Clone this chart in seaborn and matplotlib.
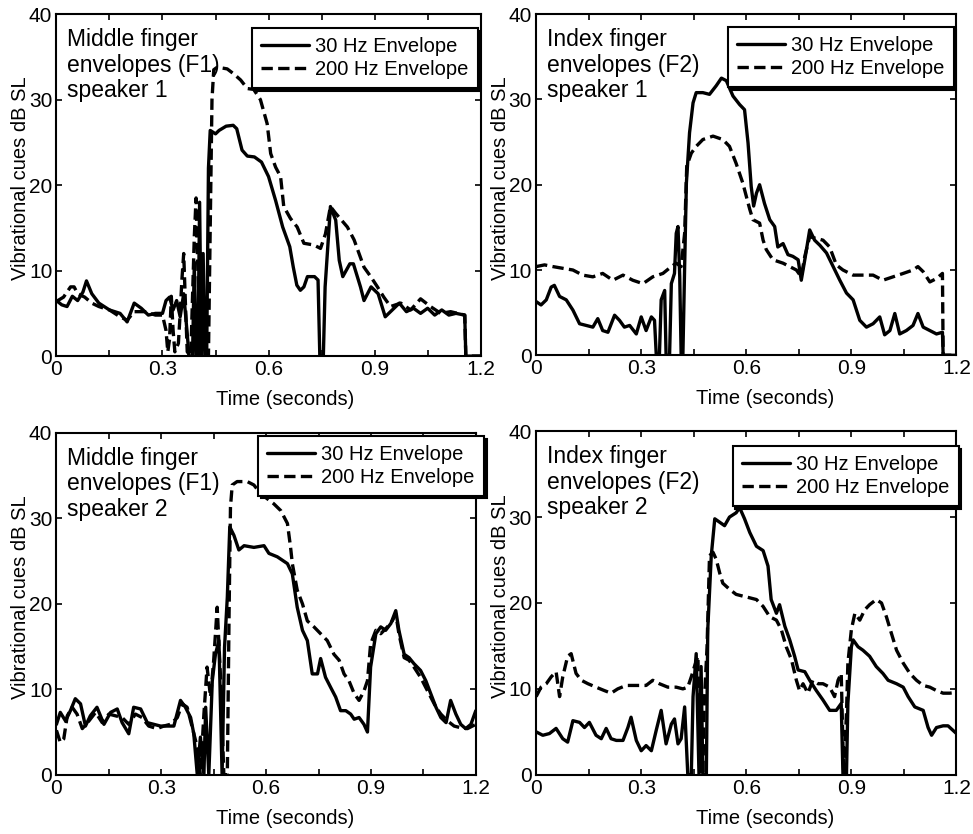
"""Four panels: 30 Hz / 200 Hz vibrotactile envelopes for two fingers and two speakers."""

import matplotlib
matplotlib.use("Agg")
import matplotlib.pyplot as plt
import numpy as np
import pandas as pd
import seaborn as sns

# ---- data (time in seconds, level in dB SL) ----
p1_t30 = [0, 0.015, 0.03, 0.045, 0.06, 0.075, 0.085, 0.1, 0.12, 0.15, 0.18, 0.2, 0.22, 0.24,
          0.26, 0.28, 0.3, 0.31, 0.32, 0.33, 0.34, 0.35, 0.36, 0.37, 0.375, 0.385, 0.39, 0.395,
          0.40, 0.405, 0.41, 0.415, 0.42, 0.425, 0.43, 0.435, 0.45, 0.46, 0.48, 0.5, 0.51, 0.525,
          0.54, 0.56, 0.58, 0.6, 0.62, 0.64, 0.66, 0.67, 0.68, 0.69, 0.7, 0.71, 0.73, 0.74,
          0.745, 0.755, 0.76, 0.77, 0.775, 0.79, 0.8, 0.81, 0.83, 0.84, 0.86, 0.87, 0.89, 0.91,
          0.93, 0.95, 0.97, 0.99, 1.01, 1.03, 1.05, 1.07, 1.09, 1.11, 1.13, 1.155, 1.158, 1.2]
p1_y30 = [6.5, 6.0, 5.8, 7.0, 6.5, 7.5, 8.8, 7.3, 6.2, 5.4, 5.0, 4.0, 6.2, 5.6,
          4.8, 5.0, 5.0, 6.5, 6.9, 5.4, 6.5, 4.6, 7.3, 2.6, 0, 0, 11, 0,
          0, 18, 0, 12, 0, 0, 22, 26.4, 26.0, 26.4, 26.9, 27.0, 26.6, 24.1,
          23.4, 23.3, 22.7, 21.0, 18.2, 15.1, 12.8, 10.4, 8.3, 7.7, 8.1, 9.3, 9.3, 8.9,
          0, 0, 8.1, 14.3, 17.5, 15.9, 11.2, 9.3, 10.8, 10.8, 8.1, 6.5, 8.1, 7.3,
          4.6, 5.4, 6.2, 5.2, 5.6, 5.0, 5.6, 4.8, 5.4, 4.8, 5.0, 4.8, 0, 0]
p1_t200 = [0, 0.02, 0.04, 0.05, 0.06, 0.08, 0.1, 0.12, 0.15, 0.18, 0.2, 0.22, 0.25, 0.28,
           0.3, 0.31, 0.315, 0.32, 0.325, 0.33, 0.335, 0.345, 0.35, 0.355, 0.36, 0.365, 0.37,
           0.38, 0.39, 0.395, 0.40, 0.41, 0.425, 0.43, 0.435, 0.44, 0.445, 0.455, 0.483, 0.502,
           0.521, 0.54, 0.558, 0.577, 0.596, 0.606, 0.62, 0.634, 0.643, 0.662, 0.681, 0.7,
           0.728, 0.747, 0.761, 0.775, 0.79, 0.823, 0.842, 0.87, 0.889, 0.908, 0.926, 0.945,
           0.974, 1.002, 1.03, 1.058, 1.087, 1.115, 1.155, 1.158, 1.2]
p1_y200 = [6.4, 6.9, 8.1, 8.1, 7.3, 6.9, 6.2, 5.8, 5.4, 4.6, 4.2, 5.2, 5.2, 4.8,
           4.8, 3.0, 0.5, 2.0, 7.0, 3.0, 0.5, 1.5, 5.0, 9.0, 12.0, 6.0, 0.5,
           0, 14, 18.5, 10, 0, 0, 0, 15, 30, 33.5, 33.8, 33.6, 33.0,
           32.3, 31.3, 31.2, 30.0, 27.2, 23.7, 22.1, 21.0, 17.5, 16.1, 15.1, 13.2,
           13.0, 12.6, 14.3, 17.5, 16.7, 15.1, 13.6, 10.4, 9.3, 8.1, 6.9, 5.8,
           6.2, 5.4, 6.7, 5.8, 5.0, 5.2, 4.8, 0, 0]

p2_t30 = [0, 0.014, 0.029, 0.043, 0.052, 0.067, 0.086, 0.105, 0.124, 0.143, 0.162, 0.176,
          0.19, 0.205, 0.224, 0.238, 0.252, 0.267, 0.286, 0.3, 0.314, 0.329, 0.338, 0.343,
          0.352, 0.357, 0.367, 0.371, 0.381, 0.386, 0.395, 0.4, 0.405, 0.41, 0.414, 0.419,
          0.424, 0.429, 0.438, 0.448, 0.457, 0.476, 0.495, 0.514, 0.529, 0.543, 0.562, 0.581,
          0.595, 0.605, 0.614, 0.621, 0.629, 0.638, 0.652, 0.667, 0.681, 0.69, 0.705, 0.719,
          0.733, 0.748, 0.757, 0.767, 0.781, 0.795, 0.81, 0.829, 0.848, 0.867, 0.886, 0.905,
          0.924, 0.943, 0.962, 0.981, 0.995, 1.01, 1.024, 1.038, 1.057, 1.076, 1.09, 1.105,
          1.124, 1.143, 1.16, 1.162, 1.2]
p2_y30 = [6.3, 5.9, 6.5, 8.0, 8.2, 6.9, 6.5, 5.3, 3.7, 3.5, 3.3, 4.3,
          2.9, 2.7, 4.7, 4.1, 3.3, 3.5, 2.5, 4.5, 2.9, 4.5, 4.1, 0,
          0, 6.5, 7.6, 0, 0, 8.4, 9.6, 14.3, 15.1, 9.2, 0, 0,
          10.4, 20.2, 26.1, 29.6, 30.8, 30.8, 30.6, 31.6, 32.5, 32.2, 30.4, 29.4,
          28.8, 24.9, 19.8, 17.5, 19.0, 20.0, 17.8, 15.9, 15.1, 12.7, 13.1, 11.8,
          11.6, 11.2, 8.8, 11.2, 14.7, 13.5, 12.9, 12.0, 10.4, 8.8, 7.3, 6.5,
          4.1, 3.3, 3.7, 4.5, 2.4, 2.9, 4.9, 2.5, 2.9, 3.5, 4.9, 3.3,
          2.9, 2.5, 2.7, 0, 0]
p2_t200 = [0, 0.024, 0.048, 0.076, 0.105, 0.133, 0.162, 0.19, 0.219, 0.248, 0.276, 0.305,
           0.333, 0.362, 0.386, 0.4, 0.414, 0.424, 0.43, 0.443, 0.457, 0.476, 0.505, 0.533,
           0.552, 0.571, 0.59, 0.61, 0.619, 0.638, 0.648, 0.657, 0.676, 0.705, 0.724, 0.743,
           0.757, 0.767, 0.781, 0.8, 0.819, 0.838, 0.857, 0.876, 0.905, 0.933, 0.962, 0.99,
           1.019, 1.048, 1.076, 1.09, 1.105, 1.124, 1.143, 1.16, 1.162, 1.2]
p2_y200 = [10.4, 10.6, 10.4, 10.2, 10.0, 9.4, 9.2, 9.6, 8.8, 9.4, 8.8, 8.4,
           9.2, 9.6, 10.4, 10.8, 10.4, 14.3, 22.2, 23.7, 24.5, 25.3, 25.7, 25.3,
           24.5, 22.5, 20.2, 17.1, 15.9, 15.5, 13.5, 12.4, 11.2, 10.8, 10.4, 10.0,
           9.2, 11.6, 13.9, 13.7, 13.5, 12.7, 10.6, 10.0, 9.4, 9.4, 9.4, 8.8,
           9.2, 9.6, 10.0, 10.4, 9.8, 8.6, 9.0, 9.6, 0, 0]

p3_t30 = [0, 0.011, 0.026, 0.04, 0.054, 0.069, 0.083, 0.097, 0.116, 0.136, 0.155, 0.174,
          0.188, 0.207, 0.221, 0.241, 0.26, 0.279, 0.298, 0.317, 0.336, 0.355, 0.369, 0.384,
          0.393, 0.403, 0.412, 0.422, 0.427, 0.436, 0.446, 0.455, 0.465, 0.474, 0.481, 0.489,
          0.496, 0.508, 0.522, 0.537, 0.565, 0.594, 0.608, 0.632, 0.661, 0.675, 0.689, 0.704,
          0.718, 0.732, 0.747, 0.756, 0.77, 0.785, 0.799, 0.813, 0.828, 0.842, 0.852, 0.866,
          0.88, 0.89, 0.899, 0.914, 0.928, 0.942, 0.957, 0.971, 0.98, 0.995, 1.009, 1.023,
          1.042, 1.057, 1.071, 1.086, 1.1, 1.115, 1.128, 1.143, 1.157, 1.171, 1.186, 1.2]
p3_y30 = [5.9, 7.3, 6.3, 7.5, 8.9, 8.3, 5.7, 6.9, 7.9, 5.9, 7.3, 7.7,
          6.1, 4.8, 7.9, 7.7, 6.1, 5.9, 5.7, 5.7, 5.7, 8.7, 7.9, 6.7,
          4.8, 0, 4.4, 0, 7.9, 0, 11.0, 14.1, 15.7, 0, 14.9, 20.8,
          29.0, 28.0, 26.3, 26.8, 26.6, 26.8, 25.9, 25.5, 24.7, 23.5, 19.6, 16.9,
          15.7, 11.8, 11.8, 13.6, 11.4, 10.2, 9.1, 7.5, 7.5, 7.1, 6.5, 6.7,
          5.9, 5.0, 12.6, 16.5, 17.3, 16.9, 17.7, 19.2, 16.9, 14.1, 13.7, 13.0,
          12.2, 11.0, 9.5, 7.9, 6.7, 6.1, 8.7, 7.1, 5.9, 5.4, 5.9, 7.5]
p3_t200 = [0, 0.011, 0.021, 0.031, 0.045, 0.059, 0.074, 0.093, 0.112, 0.131, 0.15, 0.169,
           0.188, 0.207, 0.226, 0.245, 0.264, 0.288, 0.307, 0.326, 0.346, 0.36, 0.374, 0.389,
           0.403, 0.412, 0.422, 0.431, 0.441, 0.45, 0.46, 0.47, 0.479, 0.489, 0.494, 0.498,
           0.503, 0.517, 0.546, 0.565, 0.584, 0.603, 0.622, 0.642, 0.661, 0.67, 0.675, 0.689,
           0.704, 0.718, 0.737, 0.756, 0.775, 0.794, 0.809, 0.823, 0.837, 0.852, 0.866, 0.88,
           0.89, 0.899, 0.914, 0.928, 0.947, 0.961, 0.971, 0.98, 0.995, 1.009, 1.023, 1.042,
           1.057, 1.071, 1.086, 1.1, 1.119, 1.138, 1.157, 1.176, 1.2]
p3_y200 = [5.2, 3.8, 4.2, 6.9, 7.9, 7.1, 5.4, 6.3, 7.3, 6.1, 7.1, 6.9,
           6.7, 5.9, 7.1, 6.7, 5.7, 5.4, 5.7, 5.9, 6.7, 8.3, 7.9, 5.5,
           3.2, 0, 7.1, 12.6, 9.1, 13.4, 19.6, 11.0, 0, 0, 18.8, 31.3,
           33.9, 34.3, 34.3, 33.9, 32.9, 32.3, 31.7, 30.9, 29.4, 26.6, 24.7, 21.6,
           20.0, 18.0, 17.3, 16.5, 15.7, 14.1, 13.4, 11.8, 11.0, 9.5, 8.7, 9.8,
           11.0, 15.3, 16.9, 16.5, 17.3, 18.0, 18.8, 16.5, 13.7, 13.4, 12.6, 11.4,
           10.2, 9.1, 7.9, 7.1, 6.3, 5.7, 5.5, 5.4, 5.9]

p4_t30 = [0, 0.019, 0.038, 0.057, 0.076, 0.09, 0.105, 0.124, 0.138, 0.152, 0.171, 0.186,
          0.2, 0.214, 0.229, 0.248, 0.262, 0.271, 0.286, 0.3, 0.314, 0.329, 0.343, 0.357,
          0.371, 0.386, 0.395, 0.405, 0.414, 0.424, 0.433, 0.443, 0.448, 0.457, 0.465, 0.471,
          0.476, 0.486, 0.49, 0.5, 0.51, 0.524, 0.538, 0.552, 0.571, 0.581, 0.595, 0.61,
          0.629, 0.648, 0.662, 0.671, 0.686, 0.695, 0.71, 0.724, 0.738, 0.748, 0.767, 0.781,
          0.8, 0.819, 0.838, 0.857, 0.871, 0.876, 0.886, 0.89, 0.9, 0.905, 0.919, 0.933,
          0.952, 0.971, 0.99, 1.005, 1.029, 1.048, 1.062, 1.081, 1.105, 1.119, 1.129, 1.143,
          1.162, 1.176, 1.2]
p4_y30 = [5.0, 4.6, 4.8, 5.4, 4.2, 3.8, 6.3, 6.1, 5.5, 6.1, 4.6, 4.2,
          5.4, 4.2, 4.0, 4.0, 5.5, 6.7, 4.0, 2.8, 3.4, 2.8, 5.2, 7.5,
          3.6, 5.9, 6.5, 3.6, 4.2, 7.9, 0, 0, 9.1, 14.1, 0, 12.6,
          0, 0, 16.9, 25.5, 29.8, 29.4, 29.0, 30.0, 30.5, 31.1, 29.8, 28.2,
          26.6, 26.1, 24.3, 20.4, 18.8, 19.8, 17.3, 15.7, 13.8, 12.2, 12.0, 11.0,
          9.8, 8.7, 7.5, 7.5, 8.3, 0, 0, 8.3, 14.9, 15.7, 14.9, 14.5,
          13.8, 12.6, 11.8, 11.0, 10.6, 10.2, 9.1, 7.9, 7.5, 5.5, 4.6, 5.5,
          5.7, 5.7, 4.8]
p4_t200 = [0, 0.014, 0.029, 0.043, 0.057, 0.067, 0.076, 0.09, 0.1, 0.114, 0.129, 0.148,
           0.171, 0.195, 0.214, 0.233, 0.257, 0.286, 0.314, 0.333, 0.352, 0.376, 0.4, 0.419,
           0.433, 0.443, 0.452, 0.462, 0.467, 0.471, 0.476, 0.48, 0.488, 0.495, 0.505, 0.514,
           0.524, 0.533, 0.552, 0.571, 0.59, 0.61, 0.629, 0.648, 0.667, 0.686, 0.7, 0.714,
           0.729, 0.743, 0.752, 0.762, 0.776, 0.79, 0.805, 0.819, 0.838, 0.852, 0.862, 0.871,
           0.878, 0.886, 0.89, 0.9, 0.91, 0.924, 0.938, 0.952, 0.971, 0.986, 1.0, 1.014,
           1.029, 1.048, 1.067, 1.086, 1.105, 1.124, 1.143, 1.162, 1.181, 1.2]
p4_y200 = [9.1, 10.2, 10.6, 11.4, 12.0, 9.1, 11.4, 13.8, 14.1, 11.8, 11.0, 10.6,
           10.2, 9.8, 9.5, 10.0, 10.4, 10.4, 10.4, 11.0, 10.6, 10.2, 10.2, 10.0,
           10.2, 11.4, 12.6, 13.8, 0, 0.9, 0, 8.3, 14.9, 25.5, 25.9, 25.1,
           23.5, 22.3, 21.6, 21.0, 20.8, 20.6, 20.4, 19.6, 18.4, 18.0, 16.9, 14.9,
           13.4, 11.0, 9.8, 10.6, 9.5, 11.0, 10.6, 10.6, 10.2, 9.1, 11.0, 11.8,
           0, 7.1, 13.0, 16.9, 18.8, 18.0, 19.2, 19.8, 20.4, 20.0, 18.4, 16.5,
           14.5, 13.0, 11.8, 11.0, 10.4, 10.2, 9.8, 9.5, 9.5, 9.6]

series_names = ["30 Hz Envelope", "200 Hz Envelope"]
panel_notes = [
    "Middle finger\nenvelopes (F1)\nspeaker 1",
    "Index finger\nenvelopes (F2)\nspeaker 1",
    "Middle finger\nenvelopes (F1)\nspeaker 2",
    "Index finger\nenvelopes (F2)\nspeaker 2",
]
x_ticks = [0, 0.3, 0.6, 0.9, 1.2]
x_ticklabels = ["0", "0.3", "0.6", "0.9", "1.2"]
y_ticks = [0, 10, 20, 30, 40]

panels = [
    (p1_t30, p1_y30, p1_t200, p1_y200),
    (p2_t30, p2_y30, p2_t200, p2_y200),
    (p3_t30, p3_y30, p3_t200, p3_y200),
    (p4_t30, p4_y30, p4_t200, p4_y200),
]

rects = [
    (0.058, 0.573, 0.436, 0.410),
    (0.551, 0.574, 0.432, 0.409),
    (0.058, 0.071, 0.431, 0.410),
    (0.551, 0.071, 0.432, 0.412),
]
legend_anchor = [(0.993, 0.959), (0.993, 0.962), (1.019, 0.991), (1.005, 0.956)]
xlabel_x = [0.54, 0.545, 0.545, 0.545]


def long_form(t30, y30, t200, y200):
    return pd.concat([
        pd.DataFrame({"time": t30, "level": y30, "series": series_names[0]}),
        pd.DataFrame({"time": t200, "level": y200, "series": series_names[1]}),
    ], ignore_index=True)


sns.set_style("ticks")
plt.rcParams["font.family"] = ["Liberation Sans", "DejaVu Sans"]
plt.rcParams["axes.linewidth"] = 1.5
plt.rcParams["text.color"] = "black"
plt.rcParams["axes.labelcolor"] = "black"

fig = plt.figure(figsize=(9.73, 8.34), dpi=100)
for i, (data, rect) in enumerate(zip(panels, rects)):
    ax = fig.add_axes(rect)
    df = long_form(*data)
    sns.lineplot(data=df, x="time", y="level", style="series", style_order=series_names,
                 dashes={series_names[0]: "", series_names[1]: (3.4, 1.6)},
                 color="black", lw=2.4, estimator=None, sort=False, legend=False, ax=ax)
    ax.set_xlim(0, 1.2)
    ax.set_ylim(0, 40)
    ax.set_xticks(x_ticks)
    ax.set_xticklabels(x_ticklabels)
    ax.set_xticks(np.arange(0.15, 1.2, 0.3), minor=True)
    ax.set_yticks(y_ticks)
    ax.tick_params(which="both", direction="in", top=True, right=True, length=4.5,
                   width=1.2, labelsize=15, pad=3, color="black", labelcolor="black")
    for sp in ax.spines.values():
        sp.set_visible(True)
        sp.set_color("black")
    ax.set_xlabel("Time (seconds)", fontsize=14.5, color="black")
    ax.xaxis.set_label_coords(xlabel_x[i], -0.1)
    ax.set_ylabel("Vibrational cues dB SL", fontsize=14.5, color="black")
    ax.yaxis.set_label_coords(-0.062, 0.52)
    ax.text(0.025, 0.96, panel_notes[i], transform=ax.transAxes, ha="left", va="top",
            fontsize=16.5, linespacing=1.15, color="black")
    leg = ax.legend(ax.lines[:2], series_names, loc="upper right",
                    bbox_to_anchor=legend_anchor[i], borderaxespad=0, fontsize=14.5,
                    handlelength=2.4, handletextpad=0.3, labelspacing=0.18,
                    borderpad=0.45, frameon=True, fancybox=False,
                    shadow={"color": "black", "alpha": 1})
    for txt in leg.get_texts():
        txt.set_color("black")
    leg.get_frame().set_edgecolor("black")
    leg.get_frame().set_linewidth(1.5)
    leg.get_frame().set_alpha(1)

fig.savefig("out.png", dpi=100)
